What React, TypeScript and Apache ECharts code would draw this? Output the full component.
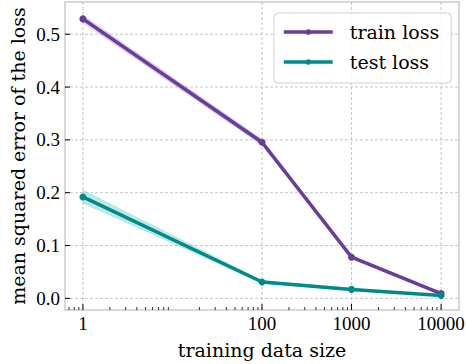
import React, { useEffect, useRef } from "react";
import * as echarts from "echarts";

const sizes = [1, 100, 1000, 10000];
const trainLoss = [0.529, 0.2955, 0.078, 0.009];
const trainLower = [0.522, 0.29, 0.075, 0.007];
const trainUpper = [0.536, 0.301, 0.081, 0.011];
const testLoss = [0.192, 0.031, 0.017, 0.0055];
const testLower = [0.18, 0.029, 0.015, 0.004];
const testUpper = [0.205, 0.034, 0.019, 0.007];

const xTickValues = [1, 100, 1000, 10000];
const xTickLabels = ["1", "100", "1000", "10000"];
const xMinorTicks = [0.7, 0.8, 0.9, 2, 3, 4, 5, 6, 7, 8, 9, 20, 30, 40, 50, 60, 70, 80, 90, 200, 300, 400, 500, 600, 700, 800, 900, 2000, 3000, 4000, 5000, 6000, 7000, 8000, 9000];
const yTickValues = [0, 0.1, 0.2, 0.3, 0.4, 0.5];
const yTickLabels = ["0.0", "0.1", "0.2", "0.3", "0.4", "0.5"];

const X_MIN = 0.631;
const X_MAX = 15849;
const Y_MIN = -0.022;
const Y_MAX = 0.561;

const PURPLE = "#6a3d9a";
const TEAL = "#008b8b";
const GRID = "#b8b8b8";
const WORD_FONT = "DejaVu Serif";
const NUM_FONT = "Liberation Serif";

export default function App() {
  const ref = useRef<HTMLDivElement>(null);
  useEffect(() => {
    if (!ref.current) return;
    const chart = echarts.init(ref.current, null, { renderer: "svg" });
    const pairs = (ys: number[]) => sizes.map((x, i) => [x, ys[i]]);

    const xTickSeries = {
      type: "custom",
      clip: false,
      silent: true,
      z: 1,
      data: xTickValues.map((v, i) => [v, Y_MIN, i]),
      renderItem: (params: any, api: any) => {
        const x = api.value(0);
        const idx = api.value(2);
        const b = api.coord([x, Y_MIN]);
        const t = api.coord([x, Y_MAX]);
        return {
          type: "group",
          children: [
            { type: "line", shape: { x1: b[0], y1: b[1], x2: t[0], y2: t[1] }, style: { stroke: GRID, lineWidth: 0.8, lineDash: [3, 2] } },
            { type: "line", shape: { x1: b[0], y1: b[1], x2: b[0], y2: b[1] - 6 }, style: { stroke: "#000", lineWidth: 1 } },
            { type: "text", x: b[0], y: b[1] + 13, style: { text: xTickLabels[idx], fontFamily: NUM_FONT, fontSize: 19, fill: "#000", align: "center", verticalAlign: "middle" } },
          ],
        };
      },
    };
    const xMinorSeries = {
      type: "custom",
      clip: false,
      silent: true,
      z: 1,
      data: xMinorTicks.map((v) => [v, Y_MIN]),
      renderItem: (params: any, api: any) => {
        const b = api.coord([api.value(0), Y_MIN]);
        return { type: "line", shape: { x1: b[0], y1: b[1], x2: b[0], y2: b[1] - 3 }, style: { stroke: "#000", lineWidth: 0.8 } };
      },
    };
    const yTickSeries = {
      type: "custom",
      clip: false,
      silent: true,
      z: 1,
      data: yTickValues.map((v, i) => [X_MIN, v, i]),
      renderItem: (params: any, api: any) => {
        const y = api.value(1);
        const idx = api.value(2);
        const l = api.coord([X_MIN, y]);
        const r = api.coord([X_MAX, y]);
        return {
          type: "group",
          children: [
            { type: "line", shape: { x1: l[0], y1: l[1], x2: r[0], y2: r[1] }, style: { stroke: GRID, lineWidth: 0.8, lineDash: [3, 2] } },
            { type: "line", shape: { x1: l[0], y1: l[1], x2: l[0] + 5, y2: l[1] }, style: { stroke: "#000", lineWidth: 1 } },
            { type: "text", x: l[0] - 5, y: l[1], style: { text: yTickLabels[idx], fontFamily: NUM_FONT, fontSize: 19, fill: "#000", align: "right", verticalAlign: "middle" } },
          ],
        };
      },
    };

    const band = (name: string, lo: number[], hi: number[], color: string) => ({
      name: name + " band",
      type: "custom",
      silent: true,
      z: 2,
      data: sizes.map((x, i) => [x, lo[i], hi[i]]),
      renderItem: (params: any, api: any) => {
        if (params.dataIndex !== 0) return null;
        const upper = sizes.map((x, i) => api.coord([x, hi[i]]));
        const lower = sizes.map((x, i) => api.coord([x, lo[i]])).reverse();
        return {
          type: "polygon",
          shape: { points: upper.concat(lower) },
          style: { fill: color, opacity: 0.4, stroke: color, lineWidth: 0.6 },
        };
      },
    });

    chart.setOption({
      animation: false,
      grid: { left: 55, right: 7, top: 2, bottom: 51, show: true, borderColor: "#cccccc", borderWidth: 1.5, backgroundColor: "transparent" },
      xAxis: {
        type: "log",
        logBase: 10,
        min: X_MIN,
        max: X_MAX,
        axisLine: { show: false },
        axisTick: { show: false },
        axisLabel: { show: false },
        splitLine: { show: false },
        name: "training data size",
        nameLocation: "middle",
        nameGap: 30,
        nameTextStyle: { fontFamily: WORD_FONT, fontSize: 19, color: "#000", verticalAlign: "top" },
      },
      yAxis: {
        type: "value",
        min: Y_MIN,
        max: Y_MAX,
        axisLine: { show: false },
        axisTick: { show: false },
        axisLabel: { show: false },
        splitLine: { show: false },
        name: "mean squared error of the loss",
        nameLocation: "middle",
        nameGap: 38,
        nameTextStyle: { fontFamily: WORD_FONT, fontSize: 19, color: "#000" },
      },
      legend: {
        data: ["train loss", "test loss"],
        orient: "vertical",
        left: 274,
        top: 13,
        width: 174,
        padding: [9, 12, 11, 8],
        itemWidth: 49,
        itemHeight: 7,
        itemGap: 10,
        borderColor: "#d0d0d0",
        borderWidth: 1,
        borderRadius: 4,
        backgroundColor: "rgba(255,255,255,0.85)",
        lineStyle: { width: 3.5 },
        textStyle: { fontFamily: WORD_FONT, fontSize: 19, color: "#000", lineHeight: 20, padding: [0, 0, 0, 12] },
      },
      series: [
        xTickSeries,
        xMinorSeries,
        yTickSeries,
        band("train", trainLower, trainUpper, "#a58bd0"),
        band("test", testLower, testUpper, "#5cc6c6"),
        { name: "train loss", type: "line", data: pairs(trainLoss), symbol: "circle", symbolSize: 7, itemStyle: { color: PURPLE }, lineStyle: { color: PURPLE, width: 3.5 }, z: 3 },
        { name: "test loss", type: "line", data: pairs(testLoss), symbol: "circle", symbolSize: 7, itemStyle: { color: TEAL }, lineStyle: { color: TEAL, width: 3.5 }, z: 3 },
      ],
    });
    return () => chart.dispose();
  }, []);
  return <div ref={ref} style={{ width: 466, height: 364, position: "absolute", left: 0, top: 0 }} />;
}
